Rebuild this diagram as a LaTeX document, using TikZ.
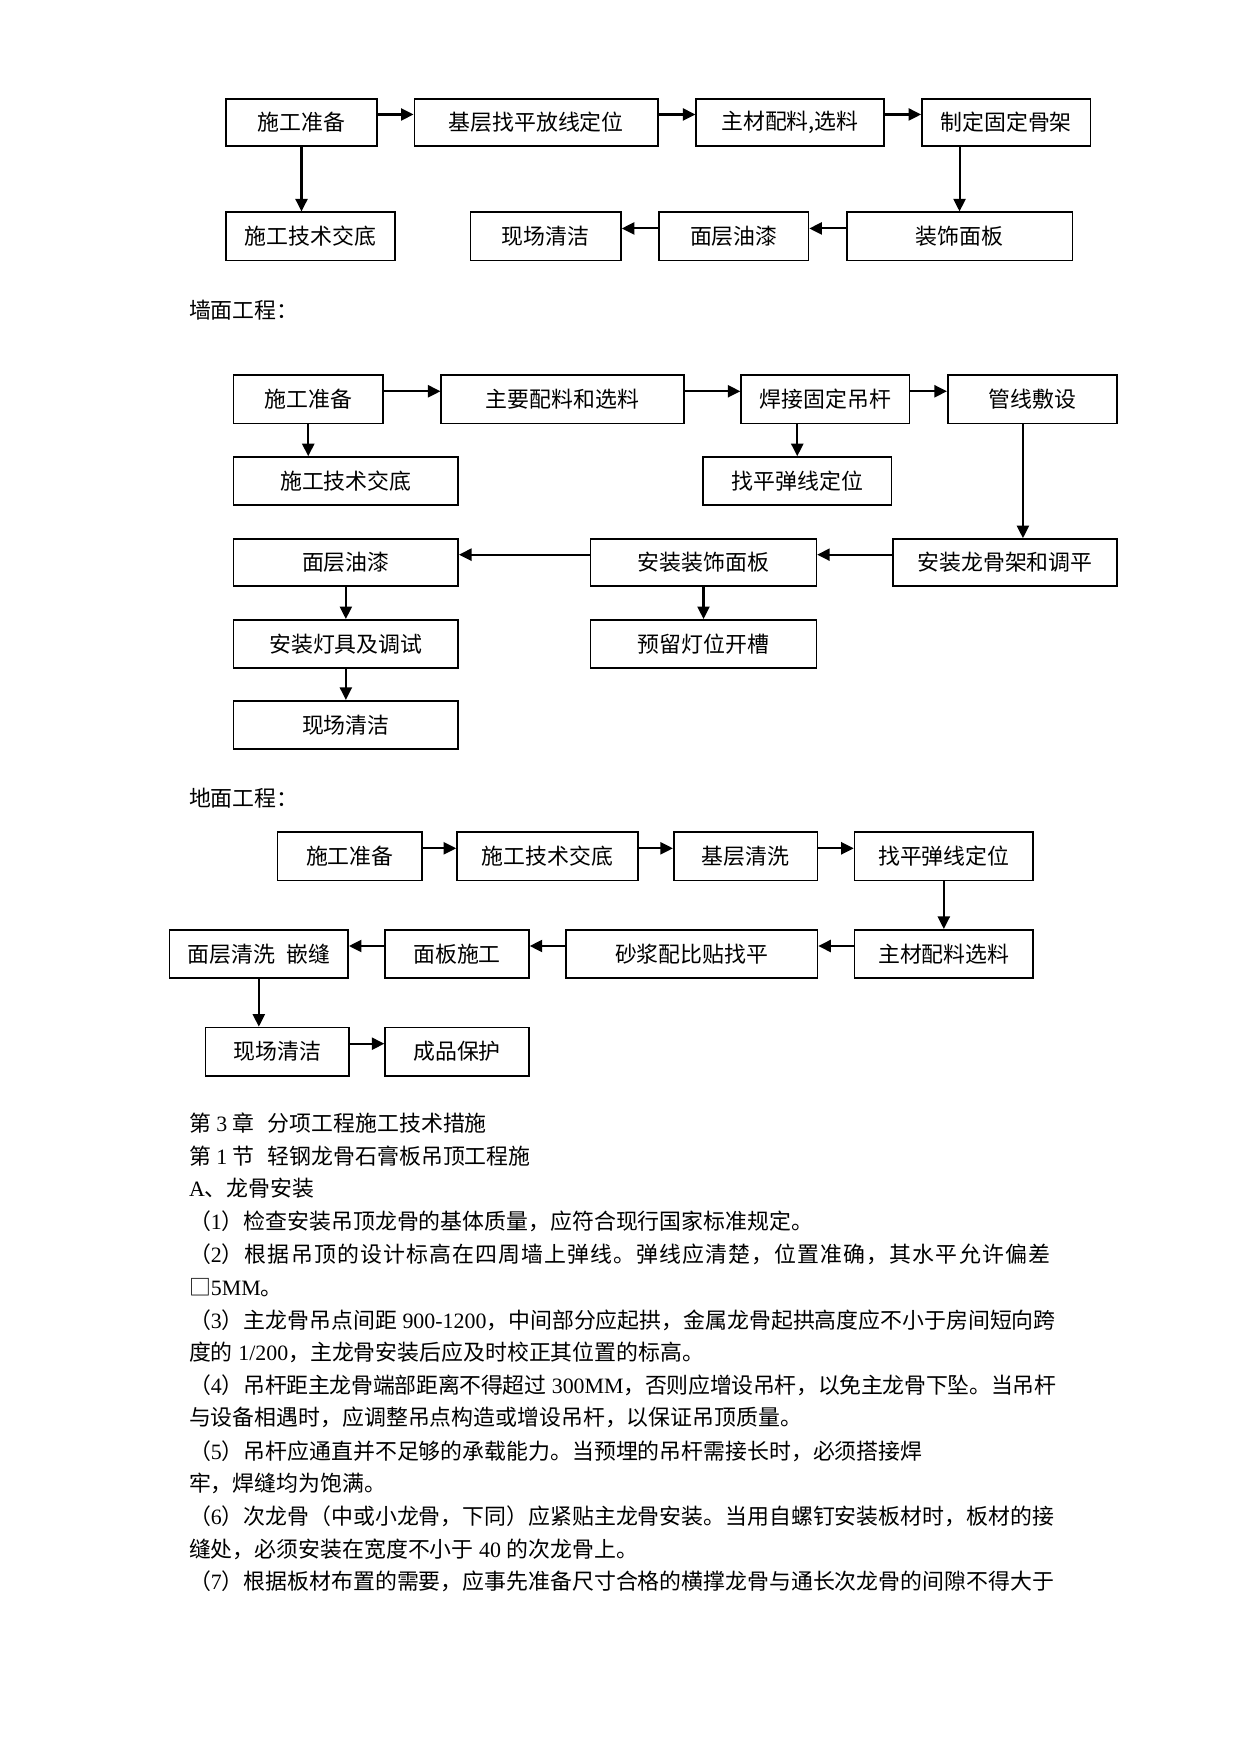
\documentclass[tikz,border=0pt]{standalone}
\usepackage{fontspec}
\setmainfont{Noto Sans CJK SC}
\newfontfamily\latfont{Liberation Serif}
\usetikzlibrary{arrows.meta,calc}
\newcommand\tnr[1]{{\latfont #1}}
\tikzset{
 box/.style={draw, line width=0.8pt, inner sep=0pt, font=\fontsize{10.5pt}{12pt}\selectfont},
 arr/.style={-{Triangle[length=6pt,width=5.8pt]}, line width=1pt},
 txt/.style={anchor=west, inner sep=0pt, text height=8.9pt, text depth=1.6pt, font=\fontsize{10.5pt}{12pt}\selectfont},
}
\newcommand\mybox[6]{\node[box, minimum width={(#3-#2)*0.5385pt}, minimum height={(#5-#4)*0.5385pt}] (#1) at ({(#2+#3)/2},{(#4+#5)/2}) {#6};}
\newcommand\rarr[2]{\draw[arr] ([yshift=3.8pt]#1.east) -- ([yshift=3.8pt]#2.west);}
\newcommand\larr[2]{\draw[arr] ([yshift=3.8pt]#1.west) -- ([yshift=3.8pt]#2.east);}
\begin{document}
\begin{tikzpicture}[x=0.5385pt,y=-0.5385pt]
\fill[white] (0,0) rectangle (1105,1562);
\useasboundingbox (0,0) rectangle (1105,1562);
% ---- section 1
\mybox{a1}{201}{336}{88}{130}{施工准备}
\mybox{a2}{369}{586}{88}{130}{基层找平放线定位}
\mybox{a3}{620}{787}{88}{130}{主材配料,选料}
\mybox{a4}{821}{971}{88}{130}{制定固定骨架}
\mybox{a5}{201}{352}{189}{232}{施工技术交底}
\mybox{a6}{419}{553}{189}{232}{现场清洁}
\mybox{a7}{587}{720}{189}{232}{面层油漆}
\mybox{a8}{754}{955}{189}{232}{装饰面板}
\rarr{a1}{a2}
\rarr{a2}{a3}
\rarr{a3}{a4}
\draw[arr] (a1.south) -- (a1.south |- a5.north);
\draw[arr] (a8.north |- a4.south) -- (a8.north);
\larr{a8}{a7}
\larr{a7}{a6}
% ---- section 2
\node[txt] (h1) at (168,277) {墙面工程：};
\mybox{b1}{208}{341}{334}{377}{施工准备}
\mybox{b2}{393}{609}{334}{377}{主要配料和选料}
\mybox{b3}{660}{810}{334}{377}{焊接固定吊杆}
\mybox{b4}{844}{995}{334}{377}{管线敷设}
\mybox{b5}{208}{408}{407}{450}{施工技术交底}
\mybox{b6}{626}{794}{407}{450}{找平弹线定位}
\mybox{b7}{208}{408}{480}{522}{面层油漆}
\mybox{b8}{526}{727}{480}{522}{安装装饰面板}
\mybox{b9}{795}{995}{480}{522}{安装龙骨架和调平}
\mybox{b10}{208}{408}{552}{595}{安装灯具及调试}
\mybox{b11}{526}{727}{552}{595}{预留灯位开槽}
\mybox{b12}{208}{408}{624}{667}{现场清洁}
\rarr{b1}{b2}
\rarr{b2}{b3}
\rarr{b3}{b4}
\draw[arr] (b1.south) -- (b1.south |- b5.north);
\draw[arr] (b6.north |- b3.south) -- (b6.north);
\draw[arr] ([xshift=-4.6pt]b4.south) -- ([xshift=-4.6pt]b4.south |- b9.north);
\larr{b9}{b8}
\larr{b8}{b7}
\draw[arr] (b7.south) -- (b10.north);
\draw[arr] (b8.south) -- (b11.north);
\draw[arr] (b10.south) -- (b12.north);
% ---- section 3
\node[txt] (h2) at (168,711) {地面工程：};
\mybox{c1}{247}{376}{741}{784}{施工准备}
\mybox{c2}{407}{568}{741}{784}{施工技术交底}
\mybox{c3}{600}{728}{741}{784}{基层清洗}
\mybox{c4}{761}{920}{741}{784}{找平弹线定位}
\mybox{c5}{151}{310}{828}{871}{面层清洗\hspace{0.5em}嵌缝}
\mybox{c6}{343}{471}{828}{871}{面板施工}
\mybox{c7}{504}{728}{828}{871}{砂浆配比贴找平}
\mybox{c8}{761}{920}{828}{871}{主材配料选料}
\mybox{c9}{183}{311}{915}{958}{现场清洁}
\mybox{c10}{343}{471}{915}{958}{成品保护}
\rarr{c1}{c2}
\rarr{c2}{c3}
\rarr{c3}{c4}
\draw[arr] (c4.south) -- (c8.north);
\larr{c8}{c7}
\larr{c7}{c6}
\larr{c6}{c5}
\draw[arr] (c5.south) -- (c5.south |- c9.north);
\rarr{c9}{c10}
% ---- body text
\node[txt] (l0) at (168,1001) {第\tnr{\ 3\ }章\hspace{0.6em}分项工程施工技术措施};
\node[txt] (l1) at (168,1030) {第\tnr{\ 1\ }节\hspace{0.6em}轻钢龙骨石膏板吊顶工程施};
\node[txt] (l2) at (168,1059) {\tnr{A}、龙骨安装};
\node[txt] (l3) at (168,1088.5) {（\tnr{1}）检查安装吊顶龙骨的基体质量，应符合现行国家标准规定。};
\node[txt] (l4) at (168,1117.6) {\addfontfeatures{LetterSpace=5.2}（\tnr{2}）根据吊顶的设计标高在四周墙上弹线。弹线应清楚，位置准确，其水平允许偏差};
\node[txt] (l5) at (168,1146.8) {□\tnr{5MM}。};
\node[txt] (l6) at (168,1176) {（\tnr{3}）主龙骨吊点间距\tnr{\ 900-1200}，中间部分应起拱，金属龙骨起拱高度应不小于房间短向跨};
\node[txt] (l7) at (168,1205) {度的\tnr{\ 1/200}，主龙骨安装后应及时校正其位置的标高。};
\node[txt] (l8) at (168,1234) {\addfontfeatures{LetterSpace=-1.3}（\tnr{4}）吊杆距主龙骨端部距离不得超过\tnr{\ 300MM}，否则应增设吊杆，以免主龙骨下坠。当吊杆};
\node[txt] (l9) at (168,1263) {与设备相遇时，应调整吊点构造或增设吊杆，以保证吊顶质量。};
\node[txt] (l10) at (168,1292.5) {（\tnr{5}）吊杆应通直并不足够的承载能力。当预埋的吊杆需接长时，必须搭接焊};
\node[txt] (l11) at (168,1321.7) {牢，焊缝均为饱满。};
\node[txt] (l12) at (168,1350.8) {（\tnr{6}）次龙骨（中或小龙骨，下同）应紧贴主龙骨安装。当用自螺钉安装板材时，板材的接};
\node[txt] (l13) at (168,1380) {缝处，必须安装在宽度不小于\tnr{\ 40\ }的次龙骨上。};
\node[txt] (l14) at (168,1409) {（\tnr{7}）根据板材布置的需要，应事先准备尺寸合格的横撑龙骨与通长次龙骨的间隙不得大于};
\end{tikzpicture}
\end{document}
